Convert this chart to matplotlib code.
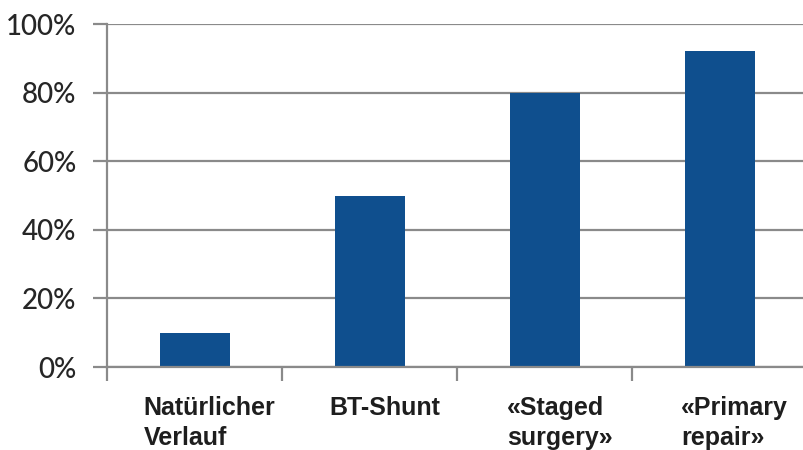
import matplotlib
matplotlib.use("Agg")
import matplotlib.pyplot as plt
import matplotlib.transforms as mtransforms
import numpy as np

categories = ["Natürlicher\nVerlauf", "BT-Shunt", "«Staged\nsurgery»", "«Primary\nrepair»"]
values = [10, 50, 80, 92]
y_ticks = [0, 20, 40, 60, 80, 100]
y_tick_labels = ["0%", "20%", "40%", "60%", "80%", "100%"]

bar_color = "#0f4f8e"
grid_color = "#8a8a8a"

fig = plt.figure(figsize=(8.04, 4.5), dpi=100)
ax = fig.add_axes([0.1331, 0.1844, 0.8709, 0.7622])

x = np.arange(len(categories))
ax.bar(x, values, width=0.4, color=bar_color, zorder=3)

ax.set_xlim(-0.5, len(categories) - 0.5)
ax.set_ylim(0, 100)

# horizontal gridlines with short outward ticks on the left
ax.set_yticks(y_ticks)
ax.set_yticklabels(y_tick_labels, fontfamily="Lato", fontweight="medium",
                   fontsize=20, color="#262626")
ax.yaxis.grid(True, color=grid_color, linewidth=1.6, zorder=0)
ax.tick_params(axis="y", length=10, width=1.6, color=grid_color, pad=12)

# category boundaries as minor ticks, labels at category centers
ax.set_xticks(x)
ax.set_xticklabels(categories, fontfamily="Liberation Sans", fontweight="bold",
                   fontsize=18, color="#1e1e1e", ha="center", multialignment="left",
                   linespacing=1.3)
ax.tick_params(axis="x", which="major", length=0, pad=21)
ax.set_xticks(np.arange(-0.5, len(categories) - 0.5 + 1e-9, 1.0), minor=True)
ax.tick_params(axis="x", which="minor", length=10, width=1.6, color=grid_color)

offset = mtransforms.ScaledTranslation(15 / 100, 0, fig.dpi_scale_trans)
for lbl in ax.get_xticklabels():
    lbl.set_transform(lbl.get_transform() + offset)

for side in ["top", "right"]:
    ax.spines[side].set_visible(False)
for side in ["left", "bottom"]:
    ax.spines[side].set_color(grid_color)
    ax.spines[side].set_linewidth(1.6)
    ax.spines[side].set_zorder(4)

fig.savefig("out.png", dpi=100, facecolor="white")
